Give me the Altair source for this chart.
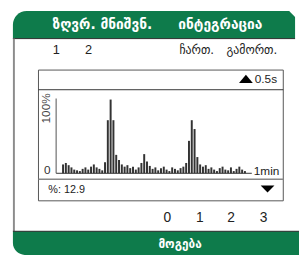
import altair as alt
import pandas as pd

# ---- data ----
bar_values = [12, 14, 11, 8, 5, 4, 3, 6, 8, 5, 9, 12, 8, 6, 4, 15, 72, 100, 72, 25,
              18, 12, 9, 11, 7, 9, 5, 8, 14, 26, 16, 10, 6, 8, 4, 7, 9, 5, 3, 8,
              6, 4, 7, 9, 14, 44, 72, 60, 22, 12, 9, 11, 6, 8, 5, 3, 7, 9, 5, 4,
              8, 3, 6, 9, 5, 3]
bar_index = list(range(len(bar_values)))

title_left = "ზღვრ. მნიშვნ."
title_right = "ინტეგრაცია"
channel_labels = ["1", "2"]
toggle_labels = ["ჩართ.", "გამორთ."]
scale_label = "0.5s"
y_top_label = "100%"
y_zero_label = "0"
x_end_label = "1min"
readout_label = "%: 12.9"
range_labels = ["0", "1", "2", "3"]
footer_label = "მოგება"

GREEN = "#0e7b4b"
W, H = 296, 248
one = pd.DataFrame({"k": [0]})


def rect(x, x2, y, y2, **kw):
    return alt.Chart(one).mark_rect(**kw).encode(
        x=alt.value(x), x2=alt.value(x2), y=alt.value(y), y2=alt.value(y2))


def rule(x, x2, y, y2, color, width=1.0):
    return alt.Chart(one).mark_rule(color=color, strokeWidth=width).encode(
        x=alt.value(x), x2=alt.value(x2), y=alt.value(y), y2=alt.value(y2))


def text(s, x, y, size=12, color="#222222", font="Liberation Sans",
         weight="normal", align="center", angle=0):
    return alt.Chart(pd.DataFrame({"t": [s]})).mark_text(
        fontSize=size, color=color, font=font, fontWeight=weight,
        align=align, baseline="middle", angle=angle).encode(
        x=alt.value(x), y=alt.value(y), text="t:N")


def shape(path, x, y, size, color):
    return alt.Chart(one).mark_point(
        shape=path, filled=True, color=color, size=size, opacity=1,
        strokeWidth=0).encode(x=alt.value(x), y=alt.value(y))


layers = []
# header
layers.append(rect(5, 292, 0, 28, color=GREEN, cornerRadiusTopLeft=15))
layers.append(shape("M -1 -1 L 1 -1 L 1 1 Z", 289, 3, 64, "white"))
layers.append(rule(5, 292, 28, 28, "#2a2a2a", 1))
layers.append(text(title_left, 96, 14, size=14, color="white",
                   font="DejaVu Sans", weight="bold"))
layers.append(text(title_right, 216, 14, size=14, color="white",
                   font="DejaVu Sans", weight="bold"))
# left border
layers.append(rule(6, 6, 28, 224, "#8c8c8c", 2))
# top labels
layers.append(text(channel_labels[0], 49, 40, size=13))
layers.append(text(channel_labels[1], 82, 40, size=13))
layers.append(text(toggle_labels[0], 192, 40, size=12, font="DejaVu Sans"))
layers.append(text(toggle_labels[1], 248, 40, size=12, font="DejaVu Sans"))
# plot box
layers.append(rect(31, 280, 60, 193, fillOpacity=0, stroke="#555555",
                   strokeWidth=1))
layers.append(rule(31, 280, 80, 80, "#333333", 1))
layers.append(shape("M -1 0.6 L 1 0.6 L 0 -0.6 Z", 242, 69, 196, "black"))
layers.append(text(scale_label, 251, 69, size=12, align="left"))
layers.append(text(y_top_label, 39, 99, size=12, color="#444444", angle=270))
layers.append(text(y_zero_label, 40, 162, size=12, color="#333333"))
layers.append(rule(49, 49, 89, 165, "#8a8a8a", 1.5))

bars = alt.Chart(pd.DataFrame({"i": bar_index, "v": bar_values})).mark_bar(
    size=2, color="#333333").encode(
    x=alt.X("i:Q", scale=alt.Scale(domain=[0, 65], range=[51, 246],
                                   nice=False, zero=False), axis=None),
    y=alt.Y("v:Q", scale=alt.Scale(domain=[0, 100], range=[165, 90],
                                   nice=False), axis=None))
layers.append(bars)
layers.append(rule(49, 248, 165, 165, "#333333", 1))
layers.append(text(x_end_label, 250, 163, size=12, align="left"))
layers.append(rule(31, 280, 171, 171, "#888888", 1.5))
layers.append(text(readout_label, 41, 182, size=11, align="left"))
layers.append(shape("M -1 -0.5 L 1 -0.5 L 0 0.5 Z", 264, 181, 196, "black"))
# range labels
for lab, xx in zip(range_labels, [162, 195, 227, 260]):
    layers.append(text(lab, xx, 211, size=14))
# footer
layers.append(rect(5, 296, 224, 248, color=GREEN, cornerRadiusBottomLeft=14))
layers.append(rule(5, 296, 224, 224, "#2a2a2a", 1))
layers.append(text(footer_label, 175, 237, size=12, color="white",
                   font="DejaVu Sans", weight="bold"))

chart = alt.layer(*layers).properties(
    width=W, height=H,
    autosize=alt.AutoSizeParams(type="fit", contains="padding"),
    padding=0,
).configure_view(strokeWidth=0)

chart.save("out.html", embed_options={"renderer": "svg", "actions": False})
